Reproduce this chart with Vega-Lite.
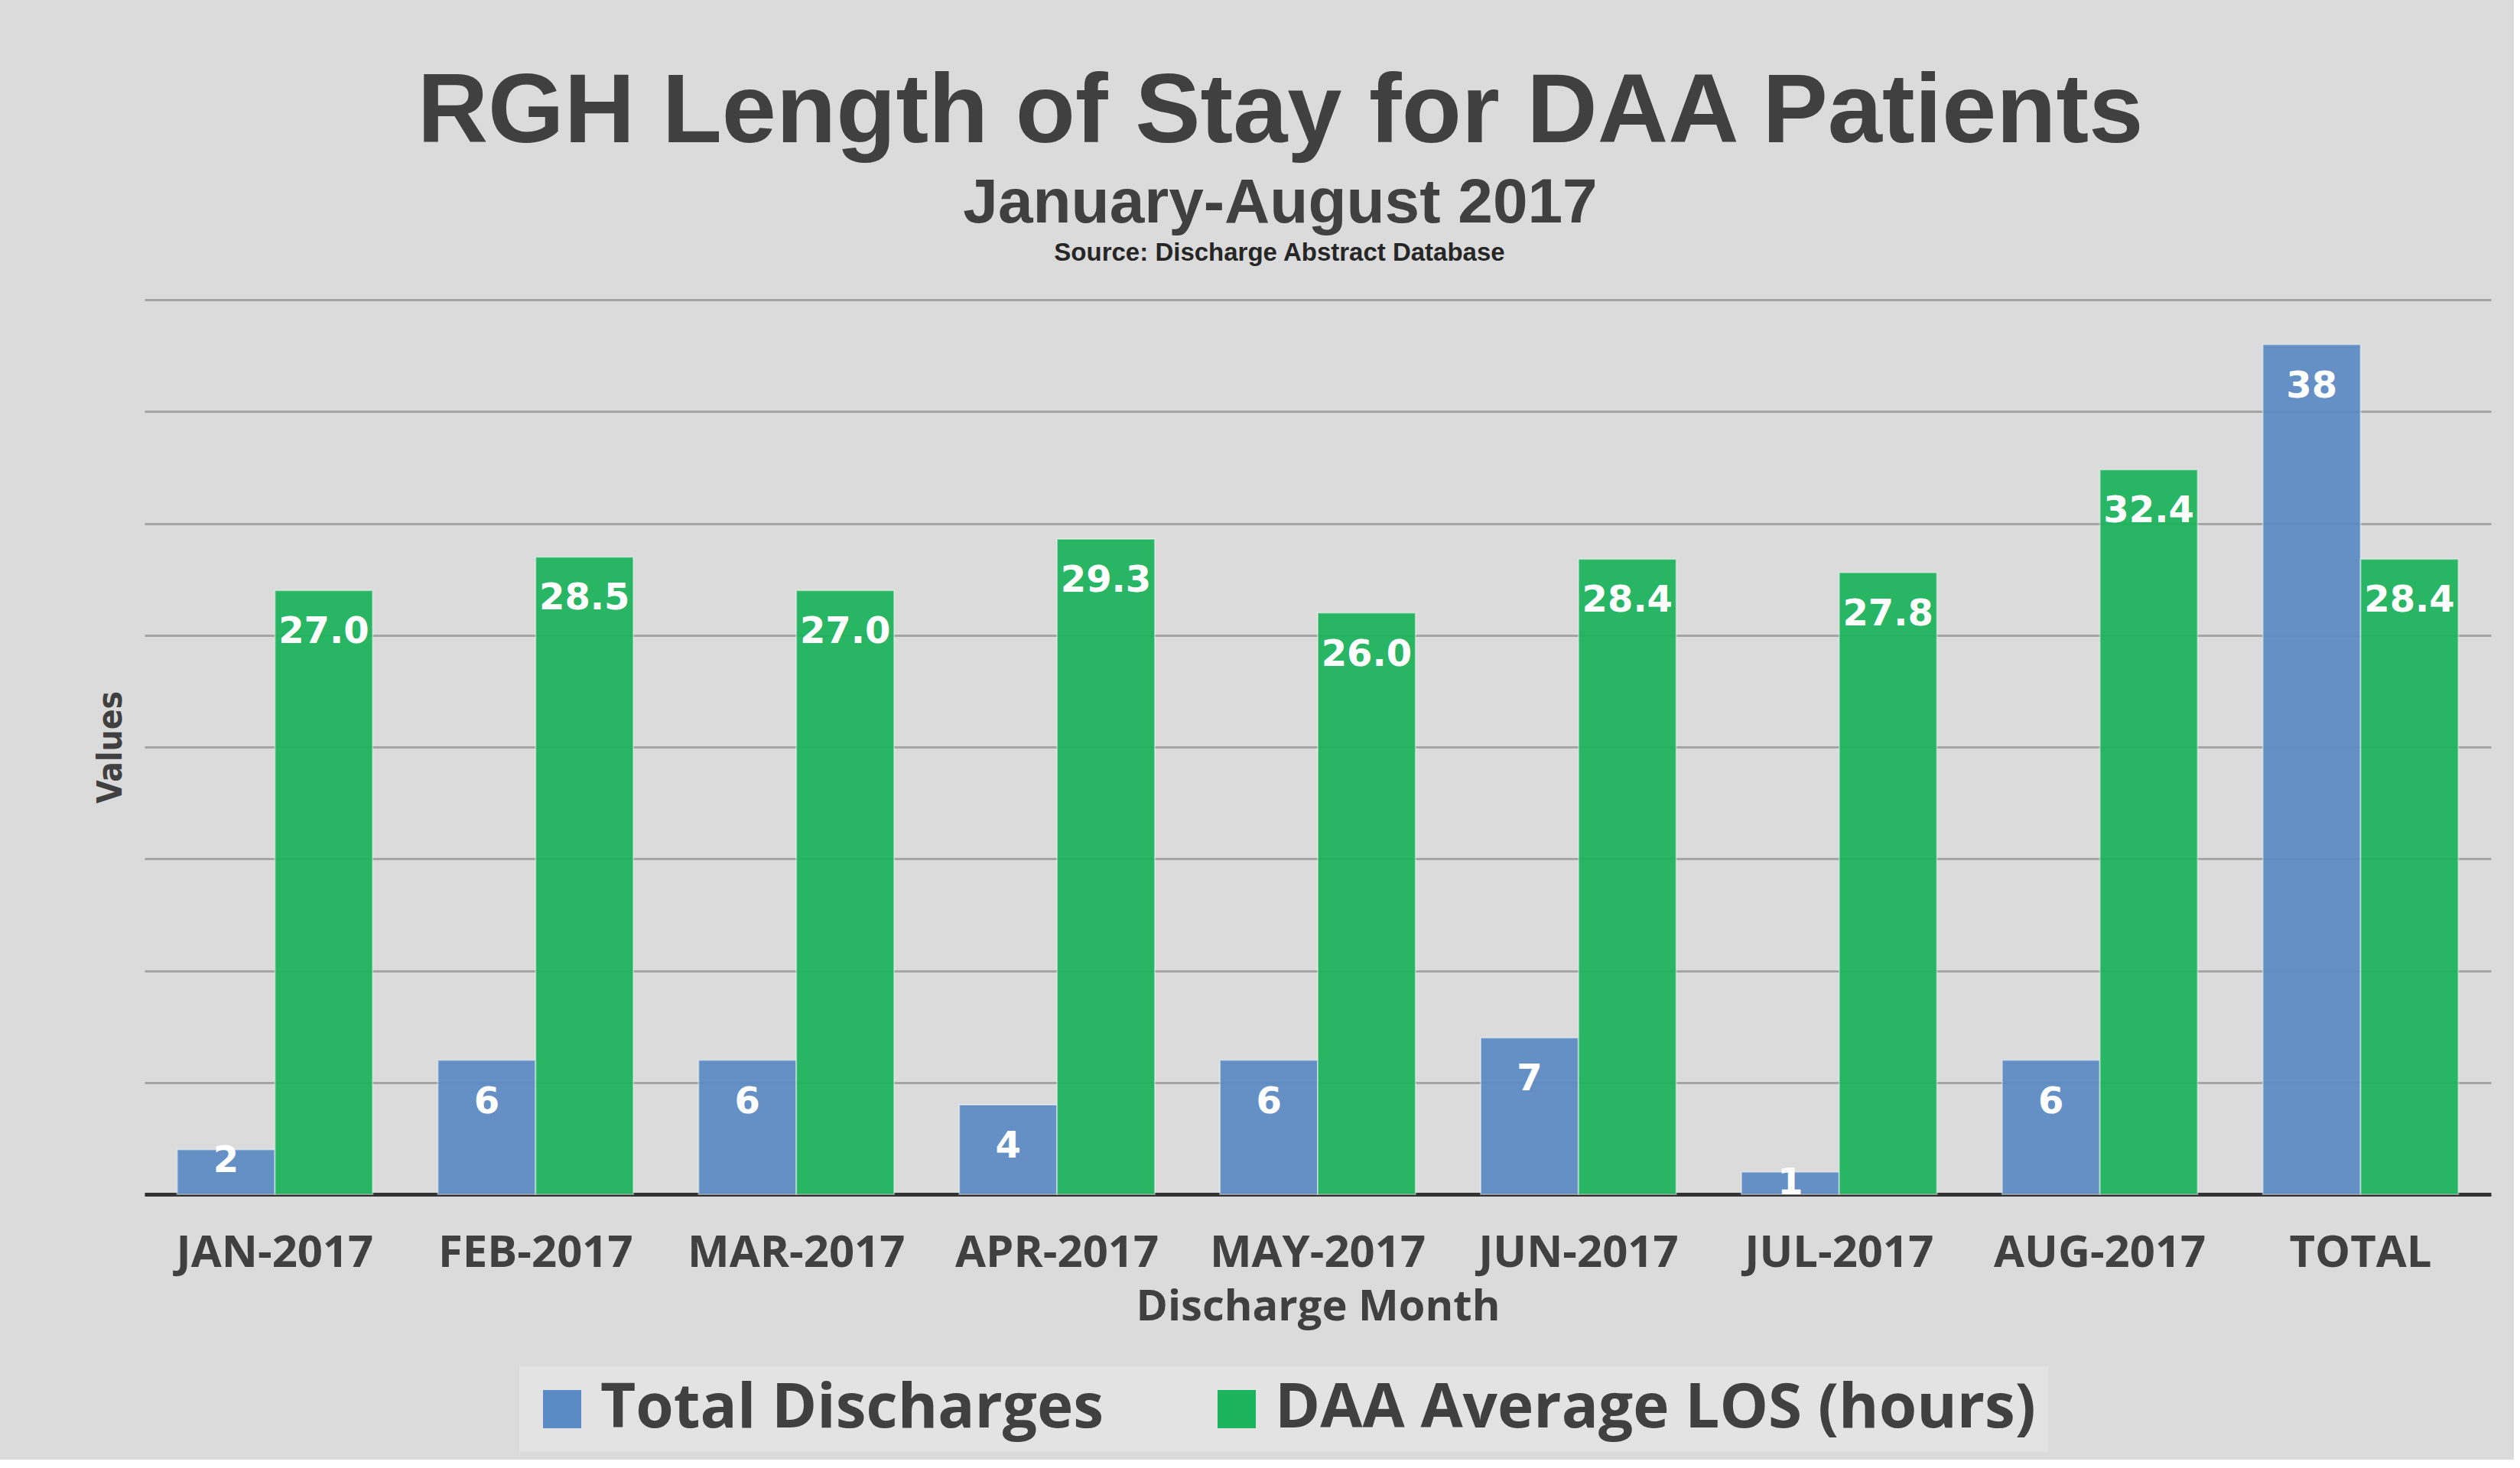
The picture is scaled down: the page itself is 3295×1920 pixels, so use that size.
{
  "$schema": "https://vega.github.io/schema/vega-lite/v6.json",
  "background": "#dbdbdb",
  "padding": {"left": 123, "top": 84, "right": 30, "bottom": 10},
  "title": {
    "text": "RGH Length of Stay for DAA Patients",
    "subtitle": "January-August 2017",
    "font": "Liberation Sans",
    "fontSize": 128,
    "fontWeight": "bold",
    "color": "#404040",
    "subtitleFont": "Liberation Sans",
    "subtitleFontSize": 82,
    "subtitleFontWeight": "bold",
    "subtitleColor": "#404040",
    "subtitlePadding": 13,
    "anchor": "middle",
    "dx": -16,
    "offset": 7
  },
  "vconcat": [
    {
      "title": {
        "text": "Source: Discharge Abstract Database",
        "font": "Liberation Sans",
        "fontSize": 33,
        "fontWeight": "bold",
        "color": "#262626",
        "anchor": "middle",
        "frame": "group",
        "dx": -50,
        "offset": 44
      },
      "width": 3068,
      "height": 1170,
      "data": {
        "values": [
          {"month": "JAN-2017", "series": "Total Discharges", "value": 2},
          {"month": "JAN-2017", "series": "DAA Average LOS (hours)", "value": 27.0},
          {"month": "FEB-2017", "series": "Total Discharges", "value": 6},
          {"month": "FEB-2017", "series": "DAA Average LOS (hours)", "value": 28.5},
          {"month": "MAR-2017", "series": "Total Discharges", "value": 6},
          {"month": "MAR-2017", "series": "DAA Average LOS (hours)", "value": 27.0},
          {"month": "APR-2017", "series": "Total Discharges", "value": 4},
          {"month": "APR-2017", "series": "DAA Average LOS (hours)", "value": 29.3},
          {"month": "MAY-2017", "series": "Total Discharges", "value": 6},
          {"month": "MAY-2017", "series": "DAA Average LOS (hours)", "value": 26.0},
          {"month": "JUN-2017", "series": "Total Discharges", "value": 7},
          {"month": "JUN-2017", "series": "DAA Average LOS (hours)", "value": 28.4},
          {"month": "JUL-2017", "series": "Total Discharges", "value": 1},
          {"month": "JUL-2017", "series": "DAA Average LOS (hours)", "value": 27.8},
          {"month": "AUG-2017", "series": "Total Discharges", "value": 6},
          {"month": "AUG-2017", "series": "DAA Average LOS (hours)", "value": 32.4},
          {"month": "TOTAL", "series": "Total Discharges", "value": 38},
          {"month": "TOTAL", "series": "DAA Average LOS (hours)", "value": 28.4}
        ]
      },
      "encoding": {
        "x": {
          "field": "month",
          "type": "nominal",
          "sort": null,
          "scale": {"paddingInner": 0.25, "paddingOuter": 0.125},
          "axis": {
            "title": "Discharge Month",
            "labelAngle": 0,
            "labelFont": "Open Sans",
            "labelFontSize": 58,
            "labelFontWeight": "bold",
            "labelColor": "#404040",
            "labelPadding": 48,
            "labelLimit": 1000,
            "ticks": false,
            "tickSize": 0,
            "domain": true,
            "domainColor": "#333333",
            "domainWidth": 5,
            "grid": false,
            "titleFont": "Open Sans",
            "titleFontSize": 56,
            "titleFontWeight": "bold",
            "titleColor": "#404040",
            "titlePadding": 14
          }
        },
        "xOffset": {
          "field": "series",
          "type": "nominal",
          "sort": ["Total Discharges", "DAA Average LOS (hours)"],
          "scale": {"paddingInner": 0, "paddingOuter": 0}
        },
        "y": {
          "field": "value",
          "type": "quantitative",
          "scale": {"domain": [0, 40], "nice": false},
          "axis": {
            "title": "Values",
            "values": [0, 5, 10, 15, 20, 25, 30, 35, 40],
            "labels": false,
            "ticks": false,
            "tickSize": 0,
            "domain": false,
            "grid": true,
            "gridColor": "#8f8f8f",
            "gridOpacity": 0.7,
            "gridWidth": 3,
            "titleFont": "DejaVu Sans Condensed, DejaVu Sans, sans-serif",
            "titleFontSize": 44,
            "titleFontWeight": "bold",
            "titleColor": "#404040",
            "titlePadding": 22
          }
        }
      },
      "layer": [
        {
          "mark": {"type": "bar", "opacity": 0.93, "stroke": "#ffffff", "strokeOpacity": 0.45, "strokeWidth": 2},
          "encoding": {
            "color": {
              "field": "series",
              "type": "nominal",
              "sort": ["Total Discharges", "DAA Average LOS (hours)"],
              "scale": {
                "domain": ["Total Discharges", "DAA Average LOS (hours)"],
                "range": ["#5b8bc4", "#1bb35b"]
              },
              "legend": {
                "title": null,
                "orient": "none",
                "legendX": 490,
                "legendY": 1395,
                "direction": "horizontal",
                "symbolType": "square",
                "symbolSize": 2500,
                "symbolStrokeWidth": 0,
                "symbolOpacity": 1,
                "labelFont": "Open Sans",
                "labelFontSize": 80,
                "labelFontWeight": "bold",
                "labelColor": "#404040",
                "labelOffset": 10,
                "labelLimit": 1500,
                "columnPadding": 133,
                "padding": 16,
                "fillColor": "#e3e3e3"
              }
            }
          }
        },
        {
          "transform": [{"filter": "datum.series === 'DAA Average LOS (hours)'"}],
          "mark": {"type": "text", "baseline": "top", "align": "center", "dy": 31, "font": "DejaVu Sans", "fontWeight": "bold", "fontSize": 48, "fill": "#ffffff"},
          "encoding": {
            "text": {"field": "value", "type": "quantitative", "format": ".1f"}
          }
        },
        {
          "transform": [{"filter": "datum.series === 'Total Discharges' && datum.value >= 3"}],
          "mark": {"type": "text", "baseline": "top", "align": "center", "dy": 31, "font": "DejaVu Sans", "fontWeight": "bold", "fontSize": 48, "fill": "#ffffff"},
          "encoding": {
            "text": {"field": "value", "type": "quantitative", "format": "d"}
          }
        },
        {
          "transform": [{"filter": "datum.series === 'Total Discharges' && datum.value < 3"}],
          "mark": {"type": "text", "baseline": "top", "align": "center", "dy": -9, "font": "DejaVu Sans", "fontWeight": "bold", "fontSize": 48, "fill": "#ffffff"},
          "encoding": {
            "text": {"field": "value", "type": "quantitative", "format": "d"}
          }
        }
      ]
    }
  ],
  "config": {
    "font": "Open Sans",
    "view": {"stroke": null},
    "concat": {"spacing": 0}
  }
}
